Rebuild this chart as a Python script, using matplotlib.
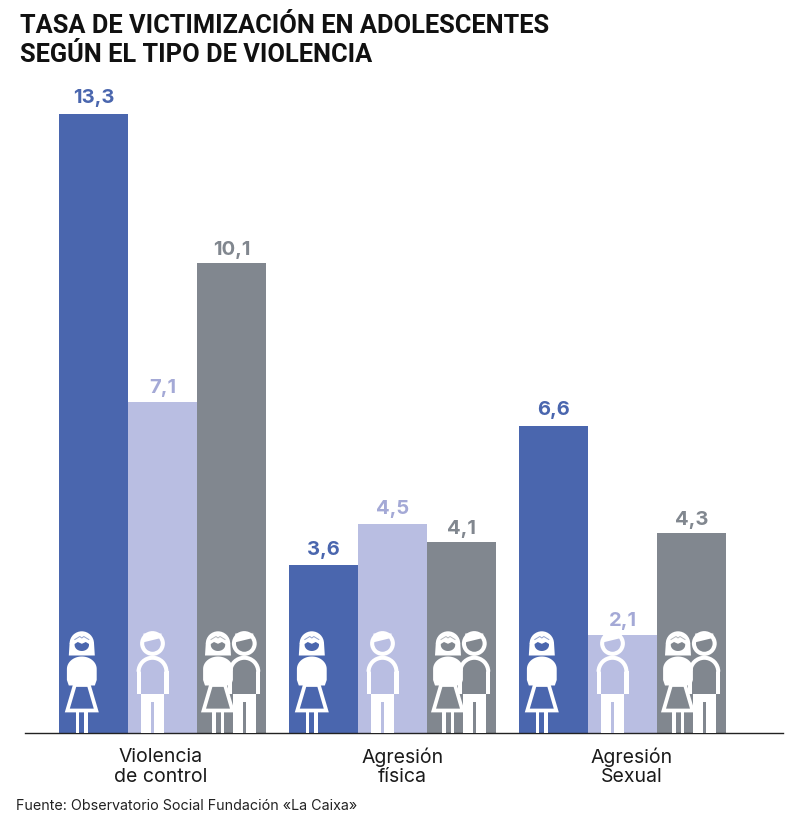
import numpy as np
import matplotlib
matplotlib.use("Agg")
import matplotlib.pyplot as plt
from matplotlib.patches import Circle, Polygon, Rectangle, Wedge

title_lines = ["TASA DE VICTIMIZACIÓN EN ADOLESCENTES", "SEGÚN EL TIPO DE VIOLENCIA"]
source = "Fuente: Observatorio Social Fundación «La Caixa»"
categories = ["Violencia\nde control", "Agresión\nfísica", "Agresión\nSexual"]
chicas = [13.3, 3.6, 6.6]
chicos = [7.1, 4.5, 2.1]
total = [10.1, 4.1, 4.3]

BLUE = "#4A66AE"
LIGHT = "#B9BEE2"
GRAY = "#81878F"
LIGHT_TXT = "#A4A9D6"
W = "white"

plt.rcParams["font.family"] = ["Inter", "DejaVu Sans"]


def woman(ov, cx, col, base=733):
    top = base - 102
    # pelo
    ov.add_patch(Wedge((cx, top + 12.5), 12.2, 180, 360, fc=W, ec="none", zorder=5))
    ov.add_patch(Polygon([[cx - 12.2, top + 12], [cx + 12.2, top + 12], [cx + 13, top + 24.5], [cx - 13, top + 24.5]],
                         fc=W, ec="none", zorder=5))
    # cara
    t = np.radians(np.linspace(0, 180, 24))
    face = np.c_[cx + 7.2 * np.cos(t), top + 14 + 6 * np.sin(t)]
    notch = [[cx - 7.2, top + 13], [cx - 4, top + 11], [cx, top + 12.8], [cx + 4, top + 11], [cx + 7.2, top + 13]]
    ov.add_patch(Polygon(np.vstack([face, notch]), fc=col, ec="none", zorder=6))
    ov.plot([cx - 7, cx - 2, cx, cx + 2, cx + 7], [top + 8.5, top + 5.5, top + 7, top + 5.5, top + 8.5],
            color=col, lw=0.7, alpha=0.6, zorder=7)
    # torso
    t = np.radians(np.linspace(180, 360, 30))
    torso = np.c_[cx + 14.9 * np.cos(t), top + 38 + 12.5 * np.sin(t)]
    torso = np.vstack([torso, [[cx + 14.9, top + 49], [cx + 13, top + 54.5], [cx - 13, top + 54.5], [cx - 14.9, top + 49]]])
    ov.add_patch(Polygon(torso, fc=W, ec="none", zorder=5))
    # falda
    ov.add_patch(Polygon([[cx - 7, top + 54], [cx + 7, top + 54], [cx + 14.5, top + 79.5], [cx - 14.5, top + 79.5]],
                         closed=True, fc=col, ec=W, lw=2.7, joinstyle="miter", zorder=5))
    # piernas
    for dx in (-6.2, 2.5):
        ov.add_patch(Rectangle((cx + dx, top + 80), 3.7, 22, fc=W, ec="none", zorder=5))


def man(ov, cx, col, base=733):
    top = base - 102
    hc = top + 12.5
    # cabeza
    ov.add_patch(Circle((cx, hc), 12.4, fc=W, ec="none", zorder=2))
    ov.add_patch(Circle((cx, hc), 8.3, fc=col, ec="none", zorder=3))
    ov.add_patch(Polygon([[cx - 9, hc - 10], [cx + 9, hc - 10], [cx + 9, hc - 5.6], [cx - 9, hc - 1.2]],
                         fc=W, ec="none", zorder=4))
    # cuerpo
    ov.add_patch(Wedge((cx, top + 40.7), 16, 180, 360, fc=W, ec="none", zorder=2))
    ov.add_patch(Rectangle((cx - 16, top + 40.2), 32, 23, fc=W, ec="none", zorder=2))
    ov.add_patch(Wedge((cx, top + 40.7), 11.9, 180, 360, fc=col, ec="none", zorder=3))
    ov.add_patch(Rectangle((cx - 11.9, top + 40.2), 23.8, 23, fc=col, ec="none", zorder=3))
    # pantalon
    ov.add_patch(Rectangle((cx - 11.7, top + 63), 23.4, 39, fc=W, ec="none", zorder=2))
    ov.add_patch(Rectangle((cx - 1.7, top + 71.3), 3.4, 30.7, fc=col, ec="none", zorder=3))


fig = plt.figure(figsize=(8, 8.24), dpi=100)
ax = fig.add_axes([25 / 800, (824 - 733) / 824, (783 - 25) / 800, 653 / 824])

group_x = np.arange(len(categories)) * 230 / 69
bar_w = 1.0
series = [(chicas, BLUE, BLUE, -1, 0.14), (chicos, LIGHT, LIGHT_TXT, 0, 0.12), (total, GRAY, GRAY, 1, 0.08)]

for vals, col, txt, off, gap in series:
    ax.bar(group_x + off * bar_w, vals, width=bar_w, color=col)
    for x, v in zip(group_x, vals):
        ax.text(x + off * bar_w, v + gap, f"{v:.1f}".replace(".", ","), ha="center", va="bottom",
                fontsize=14.5, fontweight="bold", color=txt)

ax.set_xlim(-137.5 / 69, 620.5 / 69)
ax.set_ylim(0, 653 / 46.55)
ax.set_yticks([])
ax.set_xticks([])
for s in ["top", "left", "right"]:
    ax.spines[s].set_visible(False)
ax.spines["bottom"].set_color("#222222")
ax.spines["bottom"].set_linewidth(1.0)

# capa en pixeles para los iconos y textos sueltos
ov = fig.add_axes([0, 0, 1, 1], facecolor="none")
ov.set_xlim(0, 800)
ov.set_ylim(824, 0)
ov.axis("off")

for px in (93.5, 323.5, 553.5):
    woman(ov, px - 11.7, BLUE)
    man(ov, px + 59, LIGHT)
    man(ov, px + 138 + 12.8, GRAY)
    woman(ov, px + 138 - 13.5, GRAY)

for label, cx in zip(categories, (160.5, 402.5, 631.7)):
    l1, l2 = label.split("\n")
    ov.text(cx, 757, l1, fontsize=14, color="#1a1a1a", ha="center", va="center")
    ov.text(cx, 777.5, l2, fontsize=14, color="#1a1a1a", ha="center", va="center")

ov.text(20, 25.5, title_lines[0], fontsize=18.25, fontweight="bold", color="#111111", va="center", ha="left",
        family=["Roboto", "DejaVu Sans"])
ov.text(20, 54.5, title_lines[1], fontsize=18.25, fontweight="bold", color="#111111", va="center", ha="left",
        family=["Roboto", "DejaVu Sans"])
ov.text(16, 806, source, fontsize=10.3, color="#222222", va="center", ha="left")

fig.savefig("out.png", dpi=100)
plt.close(fig)
